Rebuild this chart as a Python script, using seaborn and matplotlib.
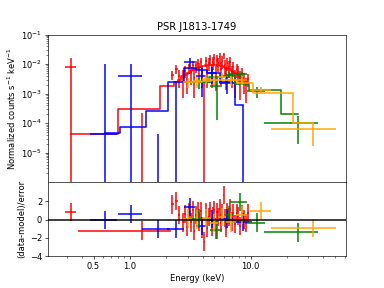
import matplotlib
matplotlib.use("Agg")
import matplotlib.pyplot as plt
import seaborn as sns
import numpy as np

# ---------------- data ----------------
red_E = [0.323, 1.27, 2.25, 2.42, 2.56, 2.75, 2.87, 2.98, 3.09, 3.20, 3.31, 3.42, 3.53,
         3.64, 3.75, 3.86, 3.97, 4.14, 4.26, 4.38, 4.50, 4.62, 4.74, 4.86, 4.99, 5.12,
         5.26, 5.40, 5.54, 5.68, 5.83, 5.96, 6.10, 6.25, 6.41, 6.58, 6.77, 6.97, 7.18,
         7.40, 7.64, 7.90, 8.18, 8.48, 8.80, 9.15, 9.55]
red_hw = [0.034, 0.90, 0.08, 0.08, 0.06, 0.06, 0.06, 0.055, 0.055, 0.055, 0.055, 0.055, 0.055,
          0.055, 0.055, 0.055, 0.055, 0.06, 0.06, 0.06, 0.06, 0.06, 0.06, 0.06, 0.065, 0.065,
          0.07, 0.07, 0.07, 0.07, 0.075, 0.07, 0.075, 0.08, 0.085, 0.09, 0.1, 0.1, 0.11,
          0.11, 0.12, 0.13, 0.14, 0.15, 0.16, 0.18, 0.2]
red_flux = [7.8e-3, -1.4e-4, 4.4e-3, 6.9e-3, 4.0e-3, 3.5e-3, 6.0e-3, 3.2e-3, 7.5e-3, 5.0e-3, 9.5e-3,
            3.5e-3, 9.0e-3, 1.1e-2, 7.0e-3, 1.2e-2, 5.0e-3, -1.5e-3, 1.3e-2, 5.5e-3, 1.1e-2,
            1.5e-2, 6.0e-3, 1.2e-2, 1.6e-2, 5.0e-3, 1.4e-2, 1.1e-2, 1.7e-2, 7.0e-3, 1.3e-2,
            2.0e-2, 9.0e-3, 4.5e-3, 1.1e-2, 8.0e-3, 1.2e-2, 5.0e-3, 8.0e-3, 3.5e-3, 7.0e-3,
            5.5e-3, 2.6e-3, 5.0e-3, 3.0e-3, 2.0e-3, 3.2e-3]
red_err = [8.7e-3, 3.7e-4, 1.5e-3, 2.2e-3, 2.4e-3, 2.8e-3, 2.5e-3, 2.2e-3, 3.0e-3, 3.0e-3, 3.5e-3,
           2.8e-3, 3.8e-3, 4.0e-3, 3.8e-3, 4.5e-3, 3.5e-3, 3.9e-3, 5.0e-3, 4.0e-3, 5.0e-3,
           6.0e-3, 4.5e-3, 5.5e-3, 6.5e-3, 3.8e-3, 6.0e-3, 5.5e-3, 7.0e-3, 5.0e-3, 6.0e-3,
           4.5e-3, 5.0e-3, 3.2e-3, 5.0e-3, 4.5e-3, 5.0e-3, 3.5e-3, 4.0e-3, 2.8e-3, 3.5e-3,
           3.0e-3, 2.0e-3, 2.5e-3, 2.0e-3, 1.5e-3, 1.5e-3]
red_model = [4.4e-5, 3.0e-4, 1.8e-3, 2.4e-3, 2.8e-3, 4.0e-3, 4.4e-3, 4.8e-3, 5.2e-3, 5.7e-3, 6.2e-3,
             6.6e-3, 7.0e-3, 7.4e-3, 7.8e-3, 8.1e-3, 8.4e-3, 8.7e-3, 9.0e-3, 9.2e-3, 9.4e-3,
             9.5e-3, 9.6e-3, 9.6e-3, 9.6e-3, 9.5e-3, 9.4e-3, 9.2e-3, 9.0e-3, 8.8e-3, 8.5e-3,
             8.2e-3, 7.8e-3, 7.4e-3, 7.0e-3, 6.6e-3, 6.2e-3, 5.8e-3, 5.4e-3, 5.0e-3, 4.6e-3,
             4.2e-3, 3.8e-3, 3.4e-3, 3.0e-3, 2.6e-3, 2.2e-3]
red_resid = [0.85, -1.19, 1.66, 2.0, 0.5, -0.3, 0.6, -0.8, 0.8, -0.3, 1.0, -1.2, 0.5, 0.9, -0.2,
             0.9, -1.0, -2.4, 0.8, -0.9, 0.3, 0.9, -0.8, 0.4, 1.0, -1.1, 0.8, 0.3, 1.2, -0.4,
             0.7, 2.7, 0.2, -0.9, 0.8, 0.3, 1.2, -0.2, 0.7, -0.5, 0.7, 0.4, -0.7, 0.6, 0.0,
             -0.4, 0.7]

blue_E = [0.625, 1.03, 1.70, 2.42, 3.15, 3.95, 4.76, 6.35, 8.6]
blue_hw = [0.155, 0.24, 0.43, 0.40, 0.34, 0.41, 0.42, 0.85, 1.6]
blue_flux = [4.5e-5, 3.9e-3, -1.0e-4, -1.0e-3, 1.2e-2, 4.0e-3, 5.2e-3, 2.4e-3, -2.0e-4]
blue_err = [1.0e-2, 6.1e-3, 1.43e-4, 3.4e-3, 4.0e-3, 3.2e-3, 3.1e-3, 1.4e-3, 6.0e-4]
blue_model = [4.6e-5, 7.3e-5, 2.5e-4, 2.4e-3, 7.3e-3, 6.5e-3, 5.2e-3, 2.35e-3, 4.0e-4]
blue_resid = [-0.07, 0.58, -1.05, -1.0, 1.37, -0.72, 0.05, 0.1, -0.28]

green_E = [3.76, 5.24, 6.65, 8.1, 11.2, 24.4]
green_hw = [0.9, 0.6, 0.55, 1.3, 1.9, 11.4]
green_flux = [2.4e-3, 1.8e-3, 4.4e-3, 4.5e-3, 1.2e-3, 1.0e-4]
green_err = [1.0e-3, 1.67e-3, 1.0e-3, 1.3e-3, 5.0e-4, 8.0e-5]
green_model = [2.4e-3, 3.6e-3, 4.0e-3, 2.2e-3, 1.35e-3, 2.1e-4]
green_resid = [0.1, -1.1, 0.5, 1.9, -0.32, -1.4]

orange_E = [3.0, 3.6, 4.3, 5.0, 5.8, 6.9, 8.5, 12.2, 32.8]
orange_hw = [0.25, 0.3, 0.35, 0.4, 0.4, 0.6, 0.9, 2.4, 18.0]
orange_flux = [2.5e-3, 2.6e-3, 3.2e-3, 3.0e-3, 3.8e-3, 3.0e-3, 3.0e-3, 1.38e-3, 6.2e-5]
orange_err = [1.0e-3, 1.0e-3, 1.0e-3, 1.0e-3, 1.1e-3, 1.0e-3, 1.0e-3, 3.5e-4, 4.5e-5]
orange_model = [2.4e-3, 2.4e-3, 2.6e-3, 3.0e-3, 3.0e-3, 2.8e-3, 2.3e-3, 1.05e-3, 1.05e-4]
orange_resid = [0.1, 0.0, 0.2, -0.4, 0.3, -0.3, 0.5, 0.94, -0.95]

xtick_vals = [0.5, 1.0, 10.0]
xtick_labels = ["0.5", "1.0", "10.0"]

datasets = [
    ("red", red_E, red_hw, red_flux, red_err, red_model, red_resid),
    ("blue", blue_E, blue_hw, blue_flux, blue_err, blue_model, blue_resid),
    ("green", green_E, green_hw, green_flux, green_err, green_model, green_resid),
    ("orange", orange_E, orange_hw, orange_flux, orange_err, orange_model, orange_resid),
]

# ---------------- figure ----------------
fig = plt.figure(figsize=(6.4, 4.8), dpi=60)
gs = fig.add_gridspec(2, 1, height_ratios=[2, 1], hspace=0)
ax1 = fig.add_subplot(gs[0])
ax2 = fig.add_subplot(gs[1], sharex=ax1)

ax1.set_xscale("log")
ax1.set_yscale("log")

LW = 2.0
for color, E, hw, flux, err, model, resid in datasets:
    ax1.errorbar(E, flux, xerr=hw, yerr=err, fmt="none", ecolor=color,
                 elinewidth=LW, alpha=0.9)
    sns.lineplot(x=E, y=model, ax=ax1, color=color, drawstyle="steps-mid",
                 estimator=None, sort=False, linewidth=LW, alpha=0.9)
    ax2.errorbar(E, resid, xerr=hw, yerr=np.ones(len(E)), fmt="none",
                 ecolor=color, elinewidth=LW, alpha=0.9)

ax2.axhline(0, color="k", lw=2.2, alpha=0.8)

ax1.set_ylim(1e-6, 1e-1)
ax1.set_yticks([1e-5, 1e-4, 1e-3, 1e-2, 1e-1])
ax1.set_xlim(0.21, 61)
ax1.set_ylabel("Normalized counts s$^{-1}$ keV$^{-1}$")
ax1.set_title("PSR J1813-1749")
plt.setp(ax1.get_xticklabels(), visible=False)

ax2.set_ylim(-4, 4.05)
ax2.set_yticks([-4, -2, 0, 2])
ax2.set_xticks(xtick_vals)
ax2.set_xticklabels(xtick_labels)
ax2.set_xlabel("Energy (keV)")
ax2.set_ylabel("(data-model)/error")

fig.savefig("out.png", dpi=60)
